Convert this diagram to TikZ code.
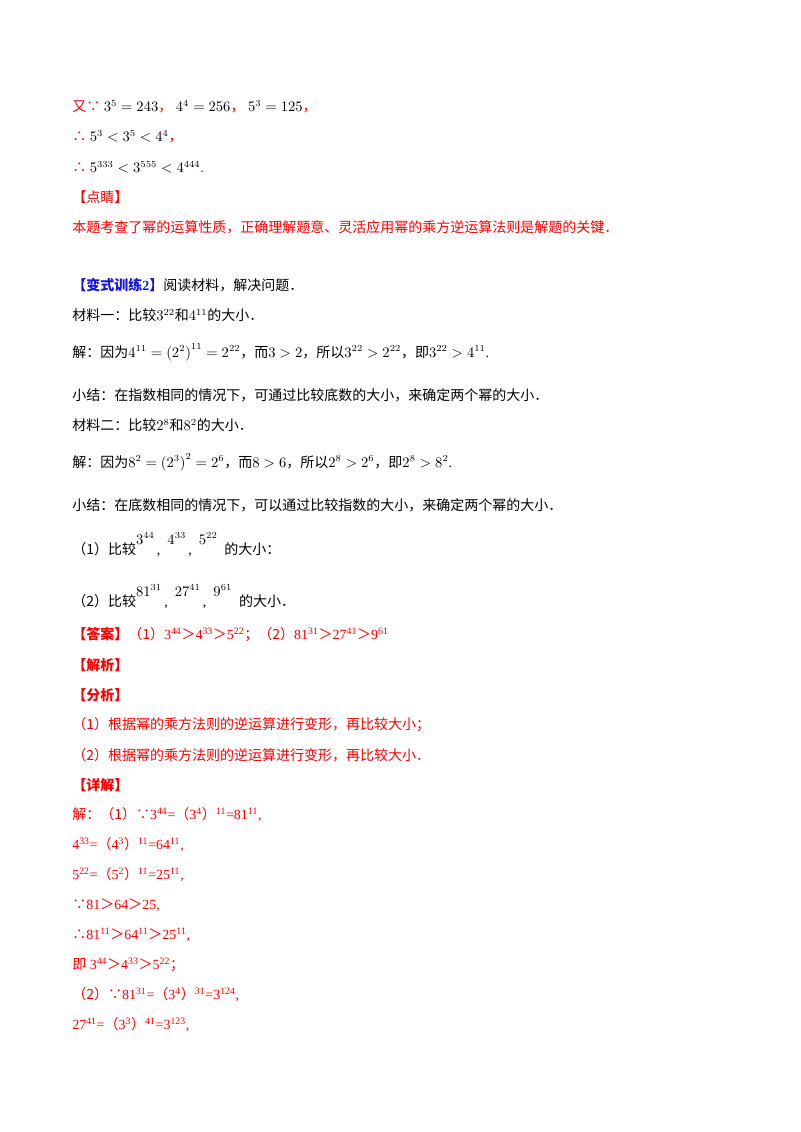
\documentclass[tikz,border=0pt]{standalone}
\usepackage{fontspec}
\setmainfont{Liberation Serif}
\newfontfamily\cjk{Noto Sans CJK SC}
\definecolor{myred}{RGB}{255,0,0}
\definecolor{myblue}{RGB}{20,20,230}
\newcommand{\zh}[1]{{\cjk #1}}
\newcommand{\pw}[2]{#1\textsuperscript{#2}}
\begin{document}
\begin{tikzpicture}[x=0.75pt,y=-0.75pt]
\tikzset{ln/.style={anchor=west,inner sep=0pt,font=\fontsize{10.5pt}{12pt}\selectfont},
 rd/.style={ln,text=myred}}
\useasboundingbox[fill=white] (0,0) rectangle (800,1132);
\node[ln] (l1) at (72,107) {\textcolor{myred}{\zh{又∵}} $3^5=243$\textcolor{myred}{\zh{，}} $4^4=256$\textcolor{myred}{\zh{，}} $5^3=125$\textcolor{myred}{\zh{，}}};
\node[ln] (l2) at (72,137) {\textcolor{myred}{\zh{∴}} $5^3<3^5<4^4$\textcolor{myred}{\zh{，}}};
\node[ln] (l3) at (72,167) {\textcolor{myred}{\zh{∴}} $5^{333}<3^{555}<4^{444}$\textcolor{myred}{.}};
\node[rd] (l4) at (72,197) {\zh{【点睛】}};
\node[rd] (l5) at (72,227) {\zh{本题考查了幂的运算性质，正确理解题意、灵活应用幂的乘方逆运算法则是解题的关键．}};
\node[ln] (l6) at (72,285) {\textcolor{myblue}{\zh{\bfseries 【变式训练}\textbf{2}\zh{\bfseries 】}}\zh{阅读材料，解决问题．}};
\node[ln] (l7) at (72,315) {\zh{材料一：比较}$3^{22}$\zh{和}$4^{11}$\zh{的大小．}};
\node[ln] (l8) at (72,352) {\zh{解：因为}$4^{11}=\left(2^2\right)^{11}=2^{22}$\zh{，而}$3>2$\zh{，所以}$3^{22}>2^{22}$\zh{，即}$3^{22}>4^{11}$.};
\node[ln] (l9) at (72,395) {\zh{小结：在指数相同的情况下，可通过比较底数的大小，来确定两个幂的大小．}};
\node[ln] (l10) at (72,425) {\zh{材料二：比较}$2^8$\zh{和}$8^2$\zh{的大小．}};
\node[ln] (l11) at (72,462) {\zh{解：因为}$8^2=\left(2^3\right)^2=2^6$\zh{，而}$8>6$\zh{，所以}$2^8>2^6$\zh{，即}$2^8>8^2$.};
\node[ln] (l12) at (72,505) {\zh{小结：在底数相同的情况下，可以通过比较指数的大小，来确定两个幂的大小．}};
\node[ln] (l13) at (72,545) {\zh{（1）比较}\raisebox{8pt}{$3^{44}$}\,,\enspace\raisebox{8pt}{$4^{33}$}\,,\enspace\raisebox{8pt}{$5^{22}$}\enspace\zh{的大小：}};
\node[ln] (l14) at (72,597) {\zh{（2）比较}\raisebox{8pt}{$81^{31}$}\,,\enspace\raisebox{8pt}{$27^{41}$}\,,\enspace\raisebox{8pt}{$9^{61}$}\enspace\zh{的大小．}};
\node[rd] (l15) at (72,635) {\zh{\bfseries 【答案】}\zh{（1）}\pw{3}{44}\zh{＞}\pw{4}{33}\zh{＞}\pw{5}{22}\zh{；（2）}\pw{81}{31}\zh{＞}\pw{27}{41}\zh{＞}\pw{9}{61}};
\node[rd] (l16) at (72,665) {\zh{\bfseries 【解析】}};
\node[rd] (l17) at (72,695) {\zh{\bfseries 【分析】}};
\node[rd] (l18) at (72,725) {\zh{（1）根据幂的乘方法则的逆运算进行变形，再比较大小；}};
\node[rd] (l19) at (72,755) {\zh{（2）根据幂的乘方法则的逆运算进行变形，再比较大小．}};
\node[rd] (l20) at (72,785) {\zh{\bfseries 【详解】}};
\node[rd] (l21) at (72,815) {\zh{解：（1）∵}\pw{3}{44}=\zh{（}\pw{3}{4}\zh{）}\textsuperscript{11}=\pw{81}{11},};
\node[rd] (l22) at (72,845) {\pw{4}{33}=\zh{（}\pw{4}{3}\zh{）}\textsuperscript{11}=\pw{64}{11},};
\node[rd] (l23) at (72,875) {\pw{5}{22}=\zh{（}\pw{5}{2}\zh{）}\textsuperscript{11}=\pw{25}{11},};
\node[rd] (l24) at (72,905) {\zh{∵}81\zh{＞}64\zh{＞}25,};
\node[rd] (l25) at (72,935) {\zh{∴}\pw{81}{11}\zh{＞}\pw{64}{11}\zh{＞}\pw{25}{11},};
\node[rd] (l26) at (72,965) {\zh{即} \pw{3}{44}\zh{＞}\pw{4}{33}\zh{＞}\pw{5}{22}\zh{；}};
\node[rd] (l27) at (72,995) {\zh{（2）∵}\pw{81}{31}=\zh{（}\pw{3}{4}\zh{）}\textsuperscript{31}=\pw{3}{124},};
\node[rd] (l28) at (72,1025) {\pw{27}{41}=\zh{（}\pw{3}{3}\zh{）}\textsuperscript{41}=\pw{3}{123},};
\end{tikzpicture}
\end{document}
